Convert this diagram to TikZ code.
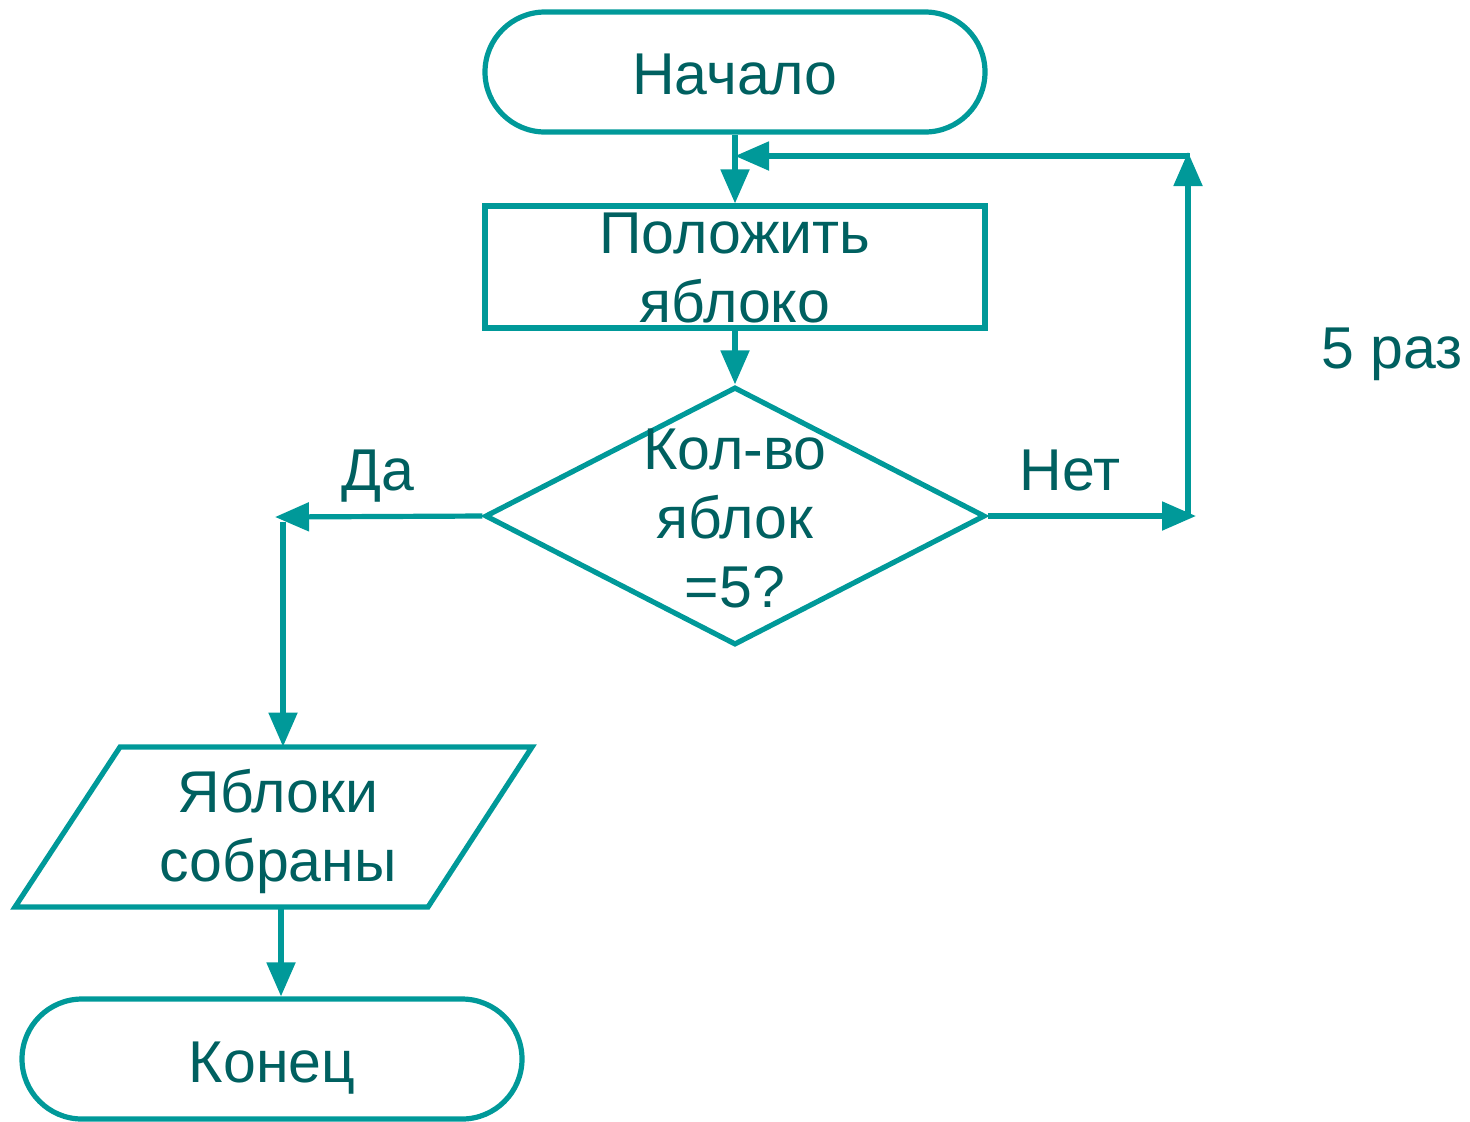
\documentclass[tikz,border=0pt]{standalone}
\usepackage{fontspec}
\setmainfont{Liberation Sans}
\usetikzlibrary{shapes.geometric,arrows.meta}
\definecolor{lineteal}{RGB}{0,153,153}
\definecolor{textteal}{RGB}{0,96,96}
\tikzset{
  shapeline/.style={draw=lineteal, line width=2.6pt, inner sep=0pt},
  term/.style={shapeline, rectangle, rounded corners=30pt, minimum width=250pt, minimum height=60pt},
  procbox/.style={shapeline, rectangle, minimum width=250pt, minimum height=61pt},
  decbox/.style={shapeline, diamond, minimum width=250pt, minimum height=129pt},
  lbl/.style={text=textteal, font=\fontsize{29.5}{34.5}\selectfont, align=center, inner sep=0pt},
  conn/.style={draw=lineteal, line width=2.6pt, -{Triangle[length=17pt,width=14pt]}},
}
\begin{document}
\begin{tikzpicture}[x=0.5pt,y=-0.5pt]
\useasboundingbox (0,0) rectangle (1470,1121);
% shapes
\node[term] (start) at (735,72) {};
\node[procbox] (put) at (735,267) {};
\node[decbox] (dec) at (735,516) {};
\coordinate (ptl) at (120,747);
\coordinate (ptr) at (532,747);
\coordinate (pbr) at (428,907);
\coordinate (pbl) at (15,907);
\draw[draw=lineteal, line width=2.6pt, line join=miter] (ptl) -- (ptr) -- (pbr) -- (pbl) -- cycle;
\node[inner sep=0pt, minimum width=206pt, minimum height=80pt] (io) at (273.5,827) {};
\node[term] (end) at (272,1059) {};
% texts
\node[lbl, anchor=base] (tstart) at (735,94) {Начало};
\node[lbl] (tput) at (735,268) {Положить\\яблоко};
\node[lbl] (tdec) at (735,518) {Кол-во\\яблок\\=5?};
\node[lbl] (tio) at (278,831) {Яблоки\\собраны};
\node[lbl, anchor=base] (tend) at (272,1082) {Конец};
\node[lbl, anchor=base] (tyes) at (378,490) {Да};
\node[lbl, anchor=base] (tno) at (1070,490) {Нет};
\node[lbl, anchor=base] (tloop) at (1392,368) {5 раз};
% connector points
\coordinate (nr) at (1196,516);
\coordinate (nrb) at (1188,518);
\coordinate (nt) at (1188,152);
\coordinate (ntl) at (1190,156);
\coordinate (yl) at (275,517);
\coordinate (yd) at (283,522);
\coordinate (iob) at (281,907);
% connectors
\draw[conn] (start.south) -- (put.north);
\draw[conn] (put.south) -- (dec.north);
\draw[conn] (dec.east) -- (nr);
\draw[conn] (nrb) -- (nt);
\draw[conn] (ntl) -- (start.south |- ntl);
\draw[conn] (dec.west) -- (yl);
\draw[conn] (yd) -- (yd |- io.north);
\draw[conn] (iob) -- (end.north -| iob);
\end{tikzpicture}
\end{document}
